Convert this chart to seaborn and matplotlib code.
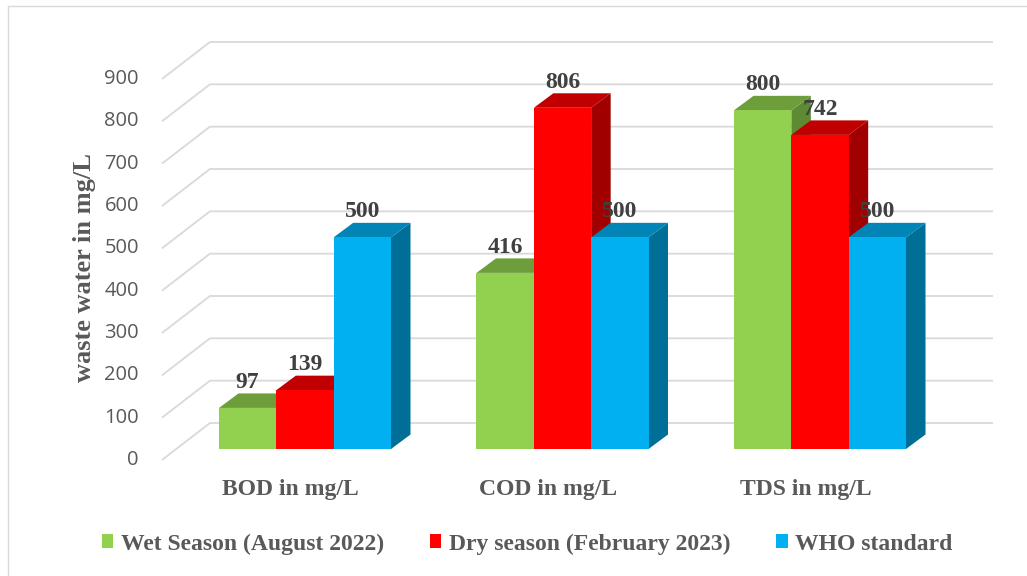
import numpy as np
import pandas as pd
import matplotlib
matplotlib.use("Agg")
import matplotlib.pyplot as plt
import seaborn as sns
from matplotlib.patches import Polygon
from matplotlib.lines import Line2D

# ---- data -------------------------------------------------------------
categories = ["BOD in mg/L", "COD in mg/L", "TDS in mg/L"]
series = ["Wet Season (August 2022)", "Dry season (February 2023)", "WHO standard"]
wet_season = [97, 416, 800]
dry_season = [139, 806, 742]
who_standard = [500, 500, 500]
y_ticks = [0, 100, 200, 300, 400, 500, 600, 700, 800, 900]

df = pd.DataFrame({
    "parameter": categories * 3,
    "season": np.repeat(series, len(categories)),
    "value": wet_season + dry_season + who_standard,
})

# ---- styling ----------------------------------------------------------
front_colors = ["#92D050", "#FF0000", "#00B0F0"]
top_colors = ["#6E9E3C", "#C00000", "#0085B6"]
side_colors = ["#5E8A33", "#A00000", "#006F98"]
grid_color = "#D9D9D9"
label_gray = "#595959"
value_gray = "#404040"

sns.set_theme(style="white")
plt.rcParams["font.family"] = ["DejaVu Sans"]

W, H = 1027, 576
fig = plt.figure(figsize=(W / 100, H / 100), dpi=100)
fig.patch.set_facecolor("white")

# axes = front plane of the bars
px_per_unit = 257.5
px_per_value = 381 / 900
ax = fig.add_axes([176.25 / W, 127 / H, 772.5 / W, 381 / H])

sns.barplot(data=df, x="parameter", y="value", hue="season",
            order=categories, hue_order=series, palette=front_colors,
            saturation=1, width=0.668, linewidth=0, ax=ax)
ax.set_xlim(-0.5, 2.5)
ax.set_ylim(0, 900)
ax.set_axis_off()

# oblique depth vectors (data units)
bar_dx, bar_dy = 19.5 / px_per_unit, 14.5 / px_per_value
back_dx, back_dy = 33.7 / px_per_unit, 26.0 / px_per_value
floor_dx, floor_dy = -14.3 / px_per_unit, -11.0 / px_per_value
x_left = -0.5
x_back_end = (993 - 176.25) / px_per_unit - 0.5

# back wall gridlines + floor diagonals
for v in y_ticks:
    ax.plot([x_left + floor_dx, x_left + back_dx, x_back_end],
            [v + floor_dy, v + back_dy, v + back_dy],
            color=grid_color, lw=1.3, clip_on=False, zorder=1,
            solid_capstyle="butt")
    ax.text(x_left + floor_dx - 23 / px_per_unit, v + floor_dy, f"{v}",
            ha="right", va="center", fontsize=14.5, color=label_gray,
            family="Open Sans")

# 3D faces for each bar, drawn left to right
bars = []
for s_idx, cont in enumerate(ax.containers):
    for rect in cont.patches:
        bars.append((rect.get_x(), s_idx, rect))
bars.sort(key=lambda b: b[0])

for rank, (x0, s_idx, rect) in enumerate(bars):
    w = rect.get_width()
    h = rect.get_height()
    z = 3 + rank * 0.1
    rect.set_zorder(z)
    rect.set_clip_on(False)
    top = Polygon([(x0, h), (x0 + w, h), (x0 + w + bar_dx, h + bar_dy),
                   (x0 + bar_dx, h + bar_dy)], closed=True,
                  facecolor=top_colors[s_idx], edgecolor="none",
                  zorder=z - 0.05, clip_on=False)
    side = Polygon([(x0 + w, 0), (x0 + w + bar_dx, bar_dy),
                    (x0 + w + bar_dx, h + bar_dy), (x0 + w, h)], closed=True,
                   facecolor=side_colors[s_idx], edgecolor="none",
                   zorder=z - 0.05, clip_on=False)
    ax.add_patch(side)
    ax.add_patch(top)
    ax.annotate(f"{int(round(h))}", xy=(x0 + w / 2, h + bar_dy),
                xytext=(0, 11), textcoords="offset pixels",
                ha="center", va="center", fontsize=17, fontweight="bold",
                family="Liberation Serif", color=value_gray, zorder=20,
                annotation_clip=False)

# category labels under the floor front edge
for i, cat in enumerate(categories):
    ax.annotate(cat, xy=(i + floor_dx, floor_dy), xytext=(0, -29),
                textcoords="offset pixels", ha="center", va="center",
                fontsize=17, fontweight="bold", family="Liberation Serif",
                color=label_gray, annotation_clip=False)

# y-axis title
fig.text(84 / W, 1 - 268 / H, "waste water in mg/L", rotation=90,
         ha="center", va="center", fontsize=19, fontweight="bold",
         family="Liberation Serif", color=label_gray)

# legend
sns.move_legend(ax, "center", bbox_to_anchor=(527 / W, 1 - 544 / H),
                bbox_transform=fig.transFigure, ncol=3, title=None,
                frameon=False, handlelength=0.5, handleheight=0.5,
                handletextpad=0.3, columnspacing=1.95,
                prop={"family": "Liberation Serif", "weight": "bold", "size": 17})
for t in ax.get_legend().get_texts():
    t.set_color(label_gray)

# chart border
fig.add_artist(Line2D([7.5 / W, 7.5 / W], [0, 1 - 5.5 / H], transform=fig.transFigure,
                      color="#D9D9D9", lw=1))
fig.add_artist(Line2D([7.5 / W, 1], [1 - 5.5 / H, 1 - 5.5 / H], transform=fig.transFigure,
                      color="#D9D9D9", lw=1))

fig.savefig("out.png", dpi=100)
